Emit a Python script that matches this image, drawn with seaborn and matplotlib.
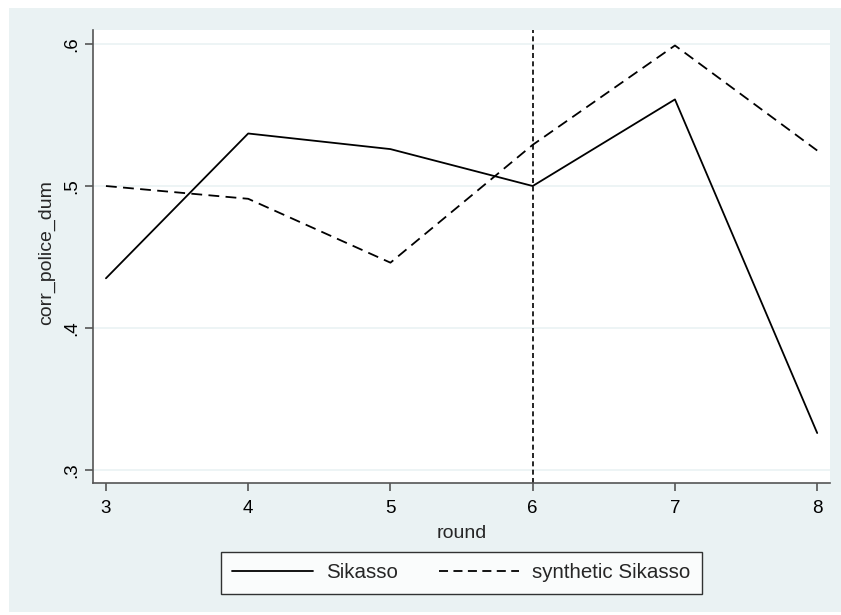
import numpy as np
import pandas as pd
import seaborn as sns
import matplotlib.pyplot as plt
from matplotlib.patches import Rectangle

# values
rounds = [3, 4, 5, 6, 7, 8]
sikasso = [0.435, 0.537, 0.526, 0.500, 0.561, 0.326]
synthetic = [0.500, 0.491, 0.446, 0.529, 0.599, 0.525]
y_ticks = [0.3, 0.4, 0.5, 0.6]
y_tick_labels = ['.3', '.4', '.5', '.6']
treat_round = 6

df = pd.DataFrame({'round': rounds * 2,
                   'corr_police_dum': sikasso + synthetic,
                   'series': ['Sikasso'] * 6 + ['synthetic Sikasso'] * 6})

sns.set_style('white')
plt.rcParams['font.family'] = ['Liberation Sans', 'DejaVu Sans']

bg = '#eaf2f3'
fig = plt.figure(figsize=(8.41, 6.15), dpi=100)
fig.patches.append(Rectangle((9 / 841, 3 / 615), 832 / 841, 604 / 615,
                             transform=fig.transFigure, facecolor=bg,
                             edgecolor='none', zorder=-10))
ax = fig.add_axes([93 / 841, 132 / 615, 737 / 841, 453 / 615])

sns.lineplot(data=df, x='round', y='corr_police_dum', hue='series', style='series',
             palette=['black', 'black'], dashes=[(None, None), (6, 3.5)],
             linewidth=1.3, ax=ax, legend=True)
ax.axvline(treat_round, color='black', linestyle=(0, (3, 2)), linewidth=1.2)

ax.set_xlim(2.909, 8.09)
ax.set_ylim(0.2908, 0.6099)
ax.set_xticks(rounds)
ax.set_yticks(y_ticks)
ax.set_yticklabels(y_tick_labels, rotation=90, va='center')
ax.grid(axis='y', color=bg, linewidth=1.2)
ax.set_axisbelow(True)

for s in ['top', 'right']:
    ax.spines[s].set_visible(False)
for s in ['left', 'bottom']:
    ax.spines[s].set_color('#555555')
    ax.spines[s].set_linewidth(1.2)
ax.tick_params(axis='both', direction='out', length=6, width=1.2, color='#555555',
               labelsize=13.5, labelcolor='black', left=True, bottom=True)
ax.tick_params(axis='x', pad=6)
ax.tick_params(axis='y', pad=3.5)
ax.set_xlabel('round', fontsize=14)
ax.set_ylabel('corr_police_dum', fontsize=14)
ax.xaxis.set_label_coords(0.5, -0.0927)
ax.yaxis.set_label_coords(-0.0516, 0.508)

handles, labels = ax.get_legend_handles_labels()
ax.get_legend().remove()
leg = fig.legend(handles, labels, loc='center', bbox_to_anchor=(461.5 / 841, 1 - 573 / 615),
                 ncol=2, frameon=True, fancybox=False, fontsize=14.8,
                 handlelength=3.9, handletextpad=0.65, columnspacing=2.0,
                 borderpad=0.55, borderaxespad=0)
leg.get_frame().set_edgecolor('black')
leg.get_frame().set_linewidth(1.0)
for line in leg.get_lines():
    line.set_linewidth(1.3)
leg.get_lines()[1].set_dashes((5, 3))

fig.savefig('out.png', dpi=100, facecolor='white')
